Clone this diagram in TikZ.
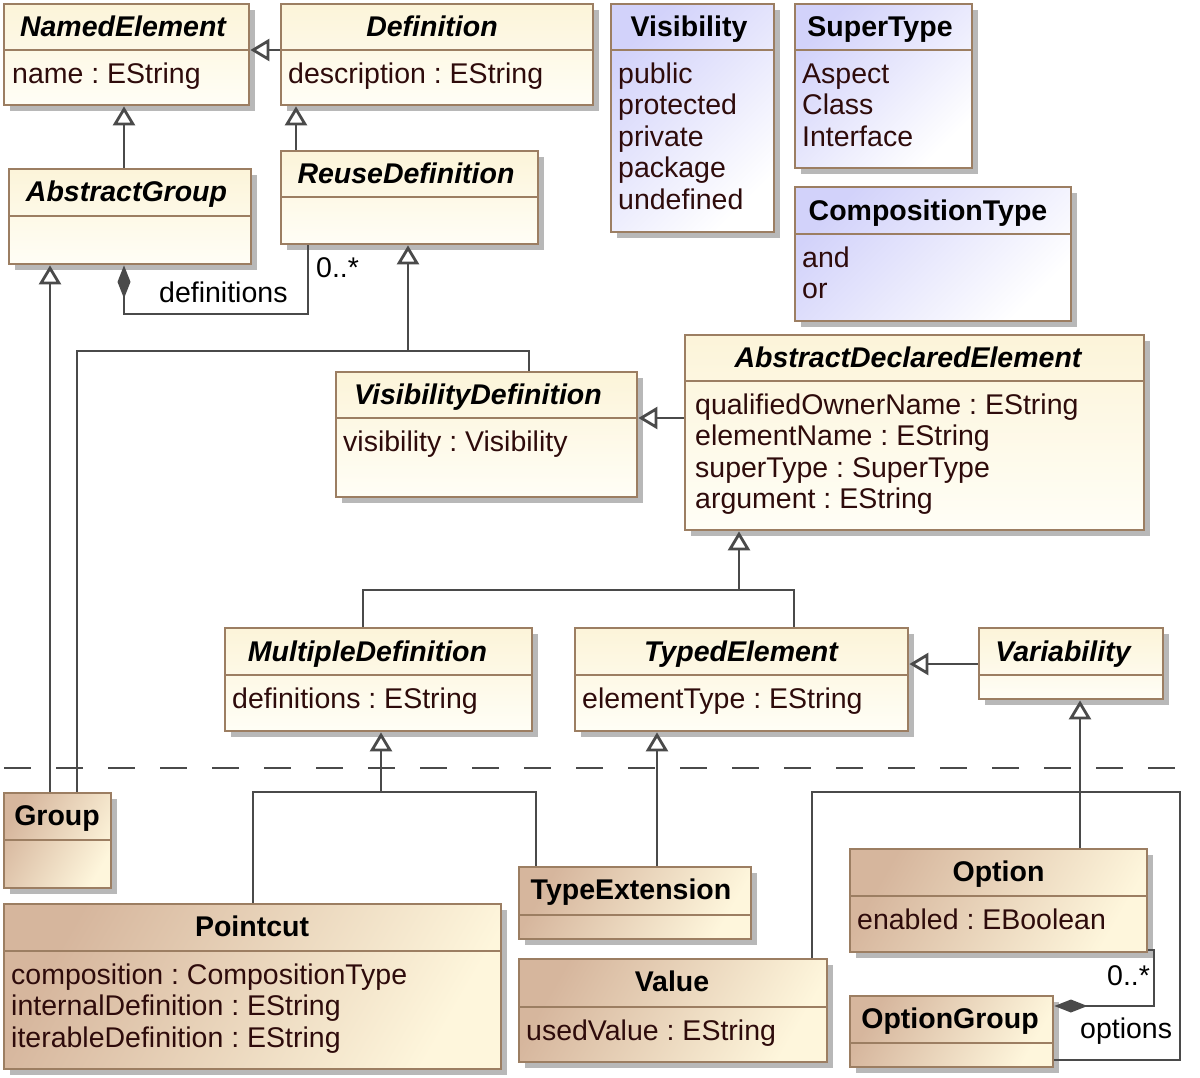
\documentclass[tikz,border=0pt]{standalone}
\usepackage{fontspec}
\setmainfont{Liberation Sans}
\usetikzlibrary{arrows.meta,fit,shadows}
\frenchspacing
\definecolor{boxbrown}{HTML}{9C7E62}
\definecolor{linegray}{HTML}{4A4A4A}
\definecolor{attrtext}{HTML}{2E0B0B}
\definecolor{creamA}{HTML}{FCF4D9}
\definecolor{creamB}{HTML}{FFFEF6}
\definecolor{tanA}{HTML}{D6B69D}
\definecolor{tanB}{HTML}{FEF6DC}
\definecolor{lavA}{HTML}{D2D2FA}
\definecolor{lavB}{HTML}{FFFFFF}
\tikzset{
  box/.style={draw=boxbrown, line width=2.8pt, inner sep=0pt,
    drop shadow={shadow xshift=6pt,shadow yshift=-6pt,fill=black,opacity=0.28}},
  abst/.style={box, top color=creamA, bottom color=creamB},
  conc/.style={box, top color=tanA, bottom color=tanB, shading angle=60},
  enum/.style={box, top color=lavA, bottom color=lavB, shading angle=45},
  sepline/.style={draw=boxbrown, line width=2.8pt},
  ttl/.style={font=\fontsize{28.5}{31.5}\selectfont\bfseries, text=black, inner sep=0pt, anchor=base},
  attr/.style={font=\fontsize{28.5}{31.5}\selectfont, text=attrtext, inner sep=0pt, anchor=base west},
  conn/.style={draw=linegray, line width=2.8pt},
  gen/.style={conn, -{Triangle[open, length=19pt, width=22pt, fill=white]}},
  comp/.style={conn, {Diamond[length=33pt, width=13pt, fill=linegray]}-},
  lbl/.style={font=\fontsize{28.5}{31.5}\selectfont, text=black, inner sep=0pt, anchor=base west},
}
\newcommand\umlclass[7]{%
  \node[#7, fit={(#2,#3) (#4,#5)}] (#1) {};
  \draw[sepline] (#2,#6) -- (#4,#6);
}
\newcommand\attrlist[4]{%
  \foreach \t [count=\i] in {#4} {\node[attr] (#1-a\i) at (#2,{#3+31.5*(\i-1)}) {\t};}
}
\begin{document}
\begin{tikzpicture}[x=1pt,y=-1pt]
\fill[white] (0,0) rectangle (1200,1077);
\useasboundingbox (0,0) rectangle (1200,1077);

% ---------- separator ----------
\coordinate (sepL) at (4,768);
\coordinate (sepR) at (1200,768);
\draw[linegray, line width=2.8pt, dash pattern=on 27pt off 25pt] (sepL) -- (sepR);

% ---------- abstract classes ----------
\umlclass{NamedElement}{4}{4}{249}{105}{50}{abst}
\node[ttl] (NamedElement-t) at (123,36) {\itshape NamedElement};
\attrlist{NamedElement}{12}{83}{name : EString}

\umlclass{Definition}{281}{4}{593}{105}{50}{abst}
\node[ttl] (Definition-t) at (432,36) {\itshape Definition};
\attrlist{Definition}{288}{83}{description : EString}

\umlclass{AbstractGroup}{9}{169}{251}{264}{216}{abst}
\node[ttl] (AbstractGroup-t) at (126.5,201) {\itshape AbstractGroup};

\umlclass{ReuseDefinition}{281}{151}{538}{244}{197}{abst}
\node[ttl] (ReuseDefinition-t) at (406,183) {\itshape ReuseDefinition};

\umlclass{VisibilityDefinition}{336}{372}{637}{497}{418}{abst}
\node[ttl] (VisibilityDefinition-t) at (478,404) {\itshape VisibilityDefinition};
\attrlist{VisibilityDefinition}{343}{451}{visibility : Visibility}

\umlclass{ADE}{685}{335}{1144}{530}{381}{abst}
\node[ttl] (ADE-t) at (908,367) {\itshape AbstractDeclaredElement};
\attrlist{ADE}{695}{414}{qualifiedOwnerName : EString,elementName : EString,superType : SuperType,argument : EString}

\umlclass{MultipleDefinition}{225}{628}{532}{731}{675}{abst}
\node[ttl] (MultipleDefinition-t) at (367.5,661) {\itshape MultipleDefinition};
\attrlist{MultipleDefinition}{232}{708}{definitions : EString}

\umlclass{TypedElement}{575}{628}{908}{731}{675}{abst}
\node[ttl] (TypedElement-t) at (741,661) {\itshape TypedElement};
\attrlist{TypedElement}{582}{708}{elementType : EString}

\umlclass{Variability}{979}{628}{1163}{699}{675}{abst}
\node[ttl] (Variability-t) at (1063,661) {\itshape Variability};

% ---------- enumerations ----------
\umlclass{Visibility}{611}{4}{774}{232}{50}{enum}
\node[ttl] (Visibility-t) at (689,36) {Visibility};
\attrlist{Visibility}{618}{83}{public,protected,private,package,undefined}

\umlclass{SuperType}{795}{4}{972}{168}{50}{enum}
\node[ttl] (SuperType-t) at (880,36) {SuperType};
\attrlist{SuperType}{802}{83}{Aspect,Class,Interface}

\umlclass{CompositionType}{795}{187}{1071}{321}{234}{enum}
\node[ttl] (CompositionType-t) at (928,220) {CompositionType};
\attrlist{CompositionType}{802}{267}{and,or}

% ---------- concrete classes ----------
\umlclass{Group}{4}{793}{111}{888}{840}{conc}
\node[ttl] (Group-t) at (57,825) {Group};

\umlclass{Pointcut}{4}{904}{501}{1069}{951}{conc}
\node[ttl] (Pointcut-t) at (252,936) {Pointcut};
\attrlist{Pointcut}{11}{984}{composition : CompositionType,internalDefinition : EString,iterableDefinition : EString}

\umlclass{TypeExtension}{519}{867}{751}{939}{915}{conc}
\node[ttl] (TypeExtension-t) at (631,899) {TypeExtension};

\umlclass{Value}{519}{959}{827}{1062}{1007}{conc}
\node[ttl] (Value-t) at (672,991) {Value};
\attrlist{Value}{526}{1040}{usedValue : EString}

\umlclass{Option}{850}{849}{1147}{952}{896}{conc}
\node[ttl] (Option-t) at (998.5,881) {Option};
\attrlist{Option}{857}{929}{enabled : EBoolean}

\umlclass{OptionGroup}{850}{996}{1053}{1067}{1043}{conc}
\node[ttl] (OptionGroup-t) at (950,1028) {OptionGroup};

% ---------- connectors ----------
\draw[gen] (Definition.west |- 0,50) -- (NamedElement.east |- 0,50);
\draw[gen] (124,0 |- AbstractGroup.north) -- (124,0 |- NamedElement.south);
\draw[gen] (296,0 |- ReuseDefinition.north) -- (296,0 |- Definition.south);
\draw[comp] (124,0 |- AbstractGroup.south) -- (124,314) -- (308,314) -- (308,0 |- ReuseDefinition.south);
\node[lbl] (defLbl) at (159,302) {definitions};
\node[lbl] (defMult) at (316,277) {0..*};

\draw[gen] (50,0 |- Group.north) -- (50,0 |- AbstractGroup.south);
\draw[gen] (77,0 |- Group.north) -- (77,351) -- (408,351) -- (408,0 |- ReuseDefinition.south);
\draw[conn] (529,0 |- VisibilityDefinition.north) -- (529,351) -- (408,351);
\draw[gen] (ADE.west |- 0,418) -- (VisibilityDefinition.east |- 0,418);
\draw[gen] (363,0 |- MultipleDefinition.north) -- (363,590) -- (739,590) -- (739,0 |- ADE.south);
\draw[conn] (794,0 |- TypedElement.north) -- (794,590) -- (739,590);
\draw[gen] (Variability.west |- 0,664) -- (TypedElement.east |- 0,664);
\draw[gen] (253,0 |- Pointcut.north) -- (253,792) -- (381,792) -- (381,0 |- MultipleDefinition.south);
\draw[conn] (536,0 |- TypeExtension.north) -- (536,792) -- (381,792);
\draw[gen] (657,0 |- TypeExtension.north) -- (657,0 |- TypedElement.south);
\draw[gen] (1080,0 |- Option.north) -- (1080,0 |- Variability.south);
\draw[conn] (812,0 |- Value.north) -- (812,792) -- (1080,792);
\draw[conn] (OptionGroup.east |- 0,1060) -- (1180,1060) -- (1180,792) -- (1080,792);
\draw[comp] (OptionGroup.east |- 0,1006) -- (1154,1006) -- (1154,950) -- (Option.east |- 0,950);
\node[lbl] (optMult) at (1107,985) {0..*};
\node[lbl] (optLbl) at (1080,1038) {options};
\end{tikzpicture}
\end{document}
